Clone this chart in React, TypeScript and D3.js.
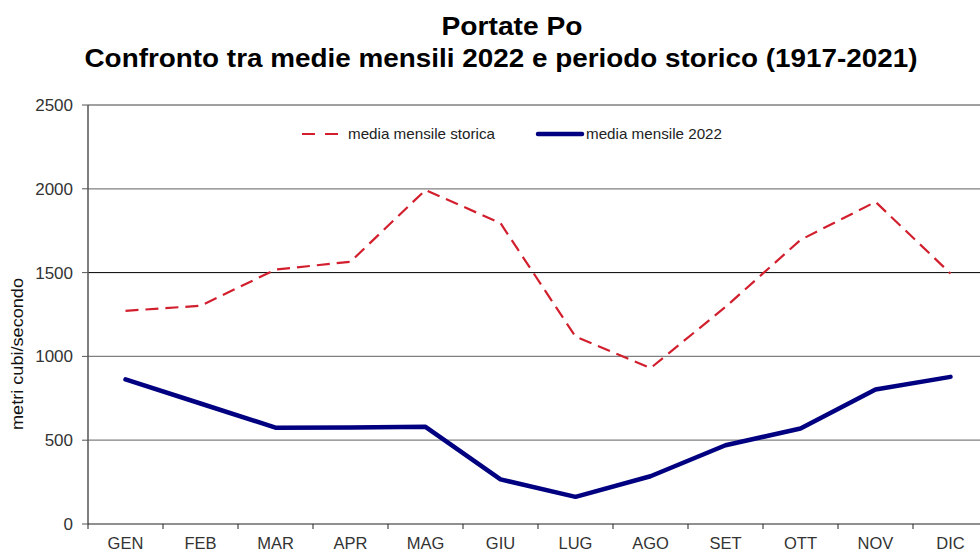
import React from 'react';
import * as d3 from 'd3';

const months = ['GEN', 'FEB', 'MAR', 'APR', 'MAG', 'GIU', 'LUG', 'AGO', 'SET', 'OTT', 'NOV', 'DIC'];
const storica = [1272, 1302, 1518, 1565, 1993, 1795, 1118, 930, 1295, 1695, 1922, 1495];
const media2022 = [863, 719, 575, 576, 580, 266, 162, 285, 470, 570, 803, 878];
const yTicks = [0, 500, 1000, 1500, 2000, 2500];

const W = 980;
const H = 551;
const left = 88;
const right = 988;
const top = 105;
const bottom = 524;
const font = 'Liberation Sans, Arial, sans-serif';
const red = '#d21f2e';
const navy = '#000080';

export default function App() {
  const x = d3.scaleBand<string>().domain(months).range([left, right]);
  const y = d3.scaleLinear().domain([0, 2500]).range([bottom, top]);
  const cx = (m: string) => (x(m) as number) + x.bandwidth() / 2;

  const line = d3.line<number>()
    .x((_, i) => cx(months[i]))
    .y(d => y(d));

  return (
    <svg width={W} height={H} style={{ position: 'absolute', left: 0, top: 0, background: '#fff' }}>
      <text x={512} y={35} textAnchor="middle" fontFamily={font} fontWeight="bold" fontSize={26}
        textLength={141} lengthAdjust="spacingAndGlyphs">Portate Po</text>
      <text x={501} y={67} textAnchor="middle" fontFamily={font} fontWeight="bold" fontSize={26}
        textLength={833} lengthAdjust="spacingAndGlyphs">
        Confronto tra medie mensili 2022 e periodo storico (1917-2021)
      </text>

      {yTicks.filter(t => t > 0).map(t => (
        <line key={t} x1={left} x2={W} y1={y(t)} y2={y(t)}
          stroke={t === 1500 ? '#000' : '#808080'} strokeWidth={t === 1500 ? 1 : 1.3} />
      ))}
      {yTicks.map(t => (
        <g key={'t' + t}>
          <line x1={left - 6} x2={left} y1={y(t)} y2={y(t)} stroke="#555" />
          <text x={73} y={y(t) + 6} textAnchor="end" fontFamily={font} fontSize={17} fill="#333">{t}</text>
        </g>
      ))}
      <line x1={left} x2={left} y1={top} y2={bottom} stroke="#555" strokeWidth={1.5} />
      <line x1={left} x2={W} y1={bottom} y2={bottom} stroke="#222" strokeWidth={1.2} />
      {months.map(m => (
        <g key={m}>
          <line x1={x(m) as number} x2={x(m) as number} y1={bottom} y2={bottom + 5} stroke="#222" />
          <text x={cx(m)} y={549} textAnchor="middle" fontFamily={font} fontSize={16.5} fill="#333">{m}</text>
        </g>
      ))}

      <text transform={`translate(23,354) rotate(-90)`} textAnchor="middle" fontFamily={font} fontSize={16}
        textLength={152} lengthAdjust="spacingAndGlyphs" fill="#111">
        metri cubi/secondo
      </text>

      <path d={line(storica) || ''} fill="none" stroke={red} strokeWidth={2.2} strokeDasharray="13,7" />
      <path d={line(media2022) || ''} fill="none" stroke={navy} strokeWidth={4.5} strokeLinejoin="round" strokeLinecap="round" />

      <line x1={302} x2={338} y1={134} y2={134} stroke={red} strokeWidth={2} strokeDasharray="13,10" />
      <text x={348} y={139} fontFamily={font} fontSize={15} textLength={147} lengthAdjust="spacingAndGlyphs" fill="#222">
        media mensile storica
      </text>
      <line x1={538} x2={582} y1={134} y2={134} stroke={navy} strokeWidth={4.5} strokeLinecap="round" />
      <text x={586} y={139} fontFamily={font} fontSize={15} textLength={136} lengthAdjust="spacingAndGlyphs" fill="#222">
        media mensile 2022
      </text>
    </svg>
  );
}
